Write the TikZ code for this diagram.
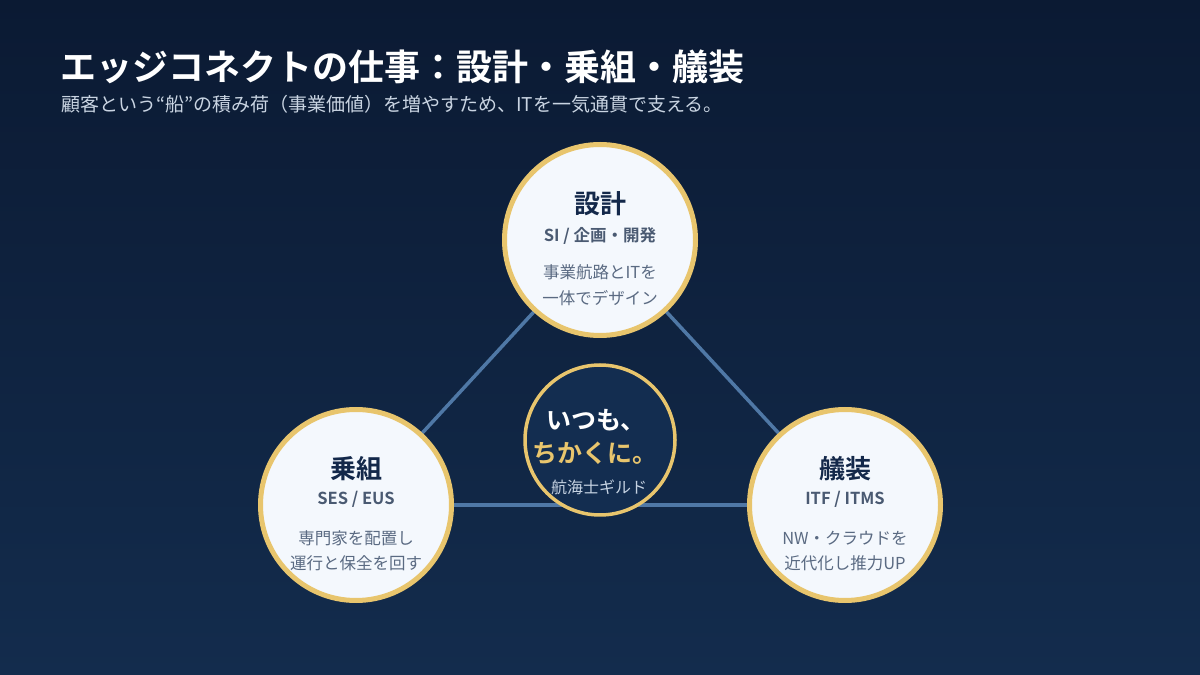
\documentclass[tikz,border=0pt]{standalone}
\usepackage{fontspec}
\setmainfont{Noto Sans CJK JP}[BoldFont={Noto Sans CJK JP Bold}]
\definecolor{bgtop}{HTML}{0B1A33}
\definecolor{bgbot}{HTML}{132C4D}
\definecolor{gold}{HTML}{E8C56D}
\definecolor{linkblue}{HTML}{4F78A6}
\definecolor{cfill}{HTML}{F4F8FD}
\definecolor{navy}{HTML}{13284A}
\definecolor{subgray}{HTML}{4A5A72}
\definecolor{descgray}{HTML}{5A6A82}
\definecolor{hubfill}{HTML}{132D50}
\definecolor{subtitle}{HTML}{C9D4E2}
\definecolor{guild}{HTML}{C5D2E2}
\begin{document}
\begin{tikzpicture}[x=1pt,y=1pt,
  role/.style={circle, draw=gold, line width=5pt, fill=cfill, minimum size=191pt, inner sep=0pt, outer sep=0pt},
  hub/.style={circle, draw=gold, line width=3.5pt, fill=hubfill, minimum size=150pt, inner sep=0pt, outer sep=0pt},
  link/.style={draw=linkblue, line width=3.5pt},
  rtitle/.style={font=\bfseries\fontsize{26}{30}\selectfont, text=navy, anchor=center, inner sep=0pt},
  rsub/.style={font=\bfseries\fontsize{16.5}{19}\selectfont, text=subgray, anchor=center, inner sep=0pt},
  rdesc/.style={font=\fontsize{16.5}{19}\selectfont, text=descgray, anchor=center, inner sep=0pt}
]
\shade[top color=bgtop, bottom color=bgbot] (0,0) rectangle (1200,675);
\useasboundingbox (0,0) rectangle (1200,675);

% title
\node[anchor=west, inner sep=0pt, text=white, font=\bfseries\fontsize{36}{40}\selectfont] (title) at (60,608) {エッジコネクトの仕事：設計・乗組・艤装};
\node[anchor=west, inner sep=0pt, text=subtitle, font=\fontsize{19}{22}\selectfont] (subt) at (61,571) {顧客という“船”の積み荷（事業価値）を増やすため、ITを一気通貫で支える。};

% positions
\coordinate (ctop) at (600,435);
\coordinate (cleft) at (356,170);
\coordinate (cright) at (845,170);

% links
\draw[link] (ctop) -- (cleft);
\draw[link] (ctop) -- (cright);
\draw[link] (cleft) -- (cright);

% circles
\node[role] (design) at (ctop) {};
\node[role] (crew) at (cleft) {};
\node[role] (fit) at (cright) {};
\node[hub] (hub) at (600,235) {};

% design
\node[rtitle] (dt) at ([yshift=36pt]design.center) {設計};
\node[rsub] (ds) at ([yshift=4pt]design.center) {SI / 企画・開発};
\node[rdesc] (dd1) at ([yshift=-32pt]design.center) {事業航路とITを};
\node[rdesc] (dd2) at ([yshift=-58pt]design.center) {一体でデザイン};

% crew
\node[rtitle] (ct) at ([yshift=36pt]crew.center) {乗組};
\node[rsub] (cs) at ([yshift=6pt]crew.center) {SES / EUS};
\node[rdesc] (cd1) at ([yshift=-33pt]crew.center) {専門家を配置し};
\node[rdesc] (cd2) at ([yshift=-58pt]crew.center) {運行と保全を回す};

% fitting
\node[rtitle] (ft) at ([yshift=36pt]fit.center) {艤装};
\node[rsub] (fs) at ([yshift=6pt]fit.center) {ITF / ITMS};
\node[rdesc] (fd1) at ([yshift=-33pt]fit.center) {NW・クラウドを};
\node[rdesc] (fd2) at ([yshift=-58pt]fit.center) {近代化し推力UP};

% hub
\node[inner sep=0pt, text=white, font=\bfseries\fontsize{25}{29}\selectfont] (h1) at (596,255) {いつも、};
\node[inner sep=0pt, text=gold, font=\bfseries\fontsize{25}{29}\selectfont] (h2) at (595,222) {ちかくに。};
\node[inner sep=0pt, text=guild, font=\fontsize{16}{19}\selectfont] (h3) at (599,188) {航海士ギルド};
\end{tikzpicture}
\end{document}
